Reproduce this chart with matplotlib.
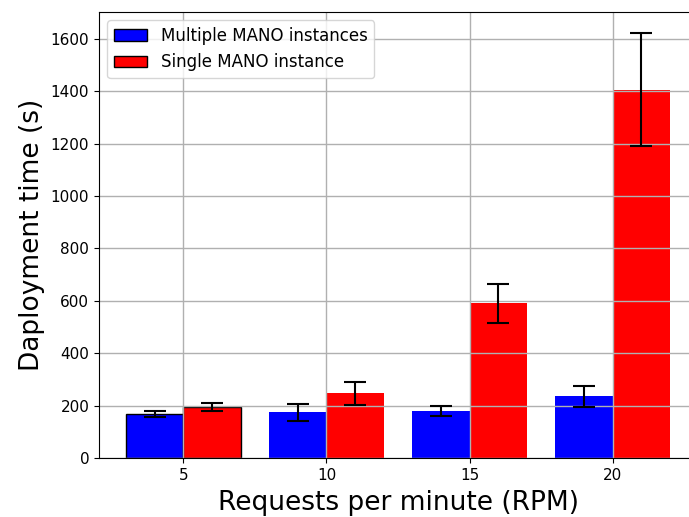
import numpy as np
import matplotlib
matplotlib.use('Agg')
import matplotlib.pyplot as plt

# data
rpm = [5, 10, 15, 20]
multi_mean = [168, 175, 180, 236]
multi_err = [11, 32, 18, 40]
single_mean = [195, 248, 590, 1407]
single_err = [14, 44, 74, 217]

fig = plt.figure(figsize=(6.89, 5.17), dpi=100)
ax = fig.add_axes([99 / 689, 59 / 517, 598 / 689, 446 / 517])

x = np.array(rpm, dtype=float)
w = 2.0
ekw = dict(elinewidth=1.5, capthick=1.5)
lw = [1.0, 0, 0, 0]  # only the first group has black outlines in the original
ax.bar(x - w / 2, multi_mean, w, yerr=multi_err, color='blue', edgecolor='black',
       linewidth=lw, capsize=8, error_kw=ekw, label='Multiple MANO instances')
ax.bar(x + w / 2, single_mean, w, yerr=single_err, color='red', edgecolor='black',
       linewidth=lw, capsize=8, error_kw=ekw, label='Single MANO instance')

ax.set_xticks(x)
ax.set_xticklabels([str(r) for r in rpm])
ax.set_xlim(2.05, 22.95)
ax.set_ylim(0, 1703)
ax.set_yticks(np.arange(0, 1601, 200))
ax.tick_params(labelsize=11)
ax.grid(True, color='#b0b0b0', linewidth=1.0)
ax.set_xlabel('Requests per minute (RPM)', fontsize=19, labelpad=5)
ax.set_ylabel('Daployment time (s)', fontsize=19)

leg = ax.legend(loc='upper left', fontsize=12)
for p in leg.get_patches():
    p.set_edgecolor('black')
    p.set_linewidth(1.0)

fig.savefig('out.png', dpi=100)
